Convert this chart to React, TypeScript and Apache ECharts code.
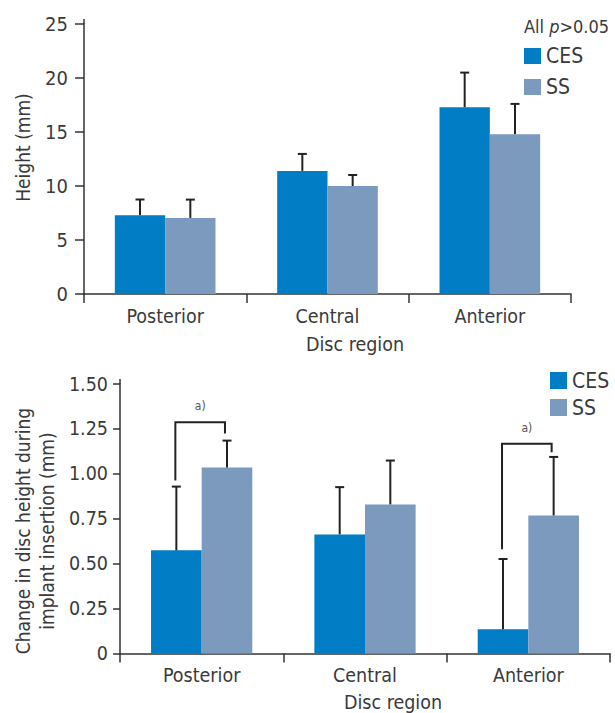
import React, { useEffect, useRef } from "react";
import * as echarts from "echarts";

const categories = ["Posterior", "Central", "Anterior"];
const seriesNames = ["CES", "SS"];

// Top chart: height (mm)
const heightCES = [7.3, 11.4, 17.3];
const heightCESsd = [1.45, 1.57, 3.2];
const heightSS = [7.04, 10.0, 14.8];
const heightSSsd = [1.7, 1.02, 2.8];

// Bottom chart: change in disc height (mm)
const changeCES = [0.574, 0.663, 0.135];
const changeCESsd = [0.355, 0.263, 0.391];
const changeSS = [1.035, 0.83, 0.768];
const changeSSsd = [0.15, 0.244, 0.326];

// Significance brackets (bottom chart): category, bracket top, left foot, right foot
const bracketCats = [0, 2];
const bracketTop = [1.287, 1.167];
const bracketLeftFoot = [0.963, 0.58];
const bracketRightFoot = [1.224, 1.12];
const bracketLabel = "a)";

const topTicks = { min: 0, max: 25, interval: 5 };
const bottomTicks = { min: 0, max: 1.5, interval: 0.25 };

const FONT = '"DejaVu Sans Condensed", "Liberation Sans Narrow", sans-serif';
const TEXT = "#3a3a3a";
const AXIS = "#333333";
const BLUE = "#007dc5";
const GREY = "#7b9abd";
const GAP = 0.38;

function errData(ces: number[], cesSd: number[], ss: number[], ssSd: number[]) {
  const out: number[][] = [];
  ces.forEach((v, i) => out.push([i, 0, v, v + cesSd[i]]));
  ss.forEach((v, i) => out.push([i, 1, v, v + ssSd[i]]));
  return out;
}

function errRender(params: any, api: any) {
  const cat = api.value(0);
  const grp = api.value(1);
  const mean = api.value(2);
  const top = api.value(3);
  const band = api.size([1, 0])[0];
  const bw = (band * (1 - GAP)) / 2;
  const off = (grp === 0 ? -0.5 : 0.5) * bw;
  const p0 = api.coord([cat, mean]);
  const p1 = api.coord([cat, top]);
  const x = p0[0] + off;
  return {
    type: "group",
    children: [
      { type: "line", shape: { x1: x, y1: p0[1], x2: x, y2: p1[1] }, style: { stroke: "#222", lineWidth: 2 } },
      { type: "line", shape: { x1: x - 4.5, y1: p1[1], x2: x + 4.5, y2: p1[1] }, style: { stroke: "#222", lineWidth: 2 } },
    ],
  };
}

function bracketRender(params: any, api: any) {
  const cat = api.value(0);
  const top = api.value(1);
  const lf = api.value(2);
  const rf = api.value(3);
  const band = api.size([1, 0])[0];
  const bw = (band * (1 - GAP)) / 2;
  const c = api.coord([cat, top]);
  const xl = c[0] - bw / 2 - 1;
  const xr = c[0] + bw / 2 - 2;
  const yt = c[1];
  const yl = api.coord([cat, lf])[1];
  const yr = api.coord([cat, rf])[1];
  return {
    type: "group",
    children: [
      {
        type: "polyline",
        shape: { points: [[xl, yl], [xl, yt], [xr, yt], [xr, yr]] },
        style: { stroke: "#222", lineWidth: 2, fill: "none" },
      },
      {
        type: "text",
        x: (xl + xr) / 2,
        y: yt - 16,
        style: { text: bracketLabel, fill: "#555", font: `12px ${FONT}`, align: "center", verticalAlign: "middle" },
      },
    ],
  };
}

export default function App() {
  const ref = useRef<HTMLDivElement>(null);
  useEffect(() => {
    const chart = echarts.init(ref.current!, null, { renderer: "svg" });
    const xAxisBase = (gridIndex: number, tickLen: number) => ({
      type: "category",
      gridIndex,
      data: categories,
      boundaryGap: true,
      axisLine: { lineStyle: { color: AXIS, width: 1.5 } },
      axisTick: { show: true, length: tickLen, lineStyle: { color: AXIS, width: 1.5 } },
      axisLabel: { interval: 0, color: TEXT, fontFamily: FONT, fontSize: 19.5, margin: 12 },
    });
    const option: any = {
      animation: false,
      textStyle: { fontFamily: FONT },
      grid: [
        { left: 84, right: 44, top: 24, height: 270 },
        { left: 120, right: 5, top: 384, height: 269.5 },
      ],
      xAxis: [xAxisBase(0, 9), xAxisBase(1, 9)],
      yAxis: [
        {
          type: "value",
          gridIndex: 0,
          ...topTicks,
          splitLine: { show: false },
          axisLine: { show: true, lineStyle: { color: AXIS, width: 1.5 } },
          axisTick: { show: true, length: 9, lineStyle: { color: AXIS, width: 1.5 } },
          axisLabel: { color: TEXT, fontFamily: FONT, fontSize: 20, margin: 16 },
        },
        {
          type: "value",
          gridIndex: 1,
          ...bottomTicks,
          splitLine: { show: false },
          axisLine: { show: true, lineStyle: { color: AXIS, width: 1.5 } },
          axisTick: { show: true, length: 7, lineStyle: { color: AXIS, width: 1.5 } },
          axisLabel: {
            color: TEXT,
            fontFamily: FONT,
            fontSize: 19.5,
            margin: 12,
            formatter: (v: number) => (v === 0 ? "0" : v.toFixed(2)),
          },
        },
      ],
      legend: [
        {
          data: seriesNames,
          orient: "vertical",
          left: 524,
          top: 45.5,
          padding: 0,
          itemWidth: 17,
          itemHeight: 16,
          itemGap: 10,
          itemTextGap: 5,
          icon: "rect",
          textStyle: { color: TEXT, fontFamily: FONT, fontSize: 21 },
          selectedMode: false,
        },
        {
          data: seriesNames,
          orient: "vertical",
          left: 550,
          top: 370,
          padding: 0,
          itemWidth: 17,
          itemHeight: 17,
          itemGap: 6,
          itemTextGap: 6,
          icon: "rect",
          textStyle: { color: TEXT, fontFamily: FONT, fontSize: 21 },
          selectedMode: false,
        },
      ],
      series: [
        { name: "CES", type: "bar", xAxisIndex: 0, yAxisIndex: 0, data: heightCES, itemStyle: { color: BLUE }, barGap: "0%", barCategoryGap: "38%" },
        { name: "SS", type: "bar", xAxisIndex: 0, yAxisIndex: 0, data: heightSS, itemStyle: { color: GREY }, barGap: "0%", barCategoryGap: "38%" },
        { name: "CES", type: "bar", xAxisIndex: 1, yAxisIndex: 1, data: changeCES, itemStyle: { color: BLUE }, barGap: "0%", barCategoryGap: "38%" },
        { name: "SS", type: "bar", xAxisIndex: 1, yAxisIndex: 1, data: changeSS, itemStyle: { color: GREY }, barGap: "0%", barCategoryGap: "38%" },
        {
          type: "custom",
          xAxisIndex: 0,
          yAxisIndex: 0,
          renderItem: errRender,
          encode: { x: 0, y: 3 },
          data: errData(heightCES, heightCESsd, heightSS, heightSSsd),
          z: 5,
        },
        {
          type: "custom",
          xAxisIndex: 1,
          yAxisIndex: 1,
          renderItem: errRender,
          encode: { x: 0, y: 3 },
          data: errData(changeCES, changeCESsd, changeSS, changeSSsd),
          z: 5,
        },
        {
          type: "custom",
          xAxisIndex: 1,
          yAxisIndex: 1,
          renderItem: bracketRender,
          encode: { x: 0, y: 1 },
          data: bracketCats.map((c, i) => [c, bracketTop[i], bracketLeftFoot[i], bracketRightFoot[i]]),
          z: 5,
        },
      ],
      graphic: [
        { type: "line", shape: { x1: 84, y1: 19, x2: 84, y2: 24 }, style: { stroke: AXIS, lineWidth: 1.5 } },
        { type: "line", shape: { x1: 120, y1: 379, x2: 120, y2: 384 }, style: { stroke: AXIS, lineWidth: 1.5 } },
        {
          type: "text",
          x: 524,
          y: 26,
          style: {
            text: "{n|All }{i|p}{n|>0.05}",
            verticalAlign: "middle",
            rich: {
              n: { fontFamily: FONT, fontSize: 18, fill: TEXT, color: TEXT },
              i: { fontFamily: FONT, fontSize: 18, fontStyle: "italic", fill: TEXT, color: TEXT },
            },
          },
        },
        {
          type: "text",
          x: 22.7,
          y: 147.5,
          rotation: Math.PI / 2,
          style: { text: "Height (mm)", fill: TEXT, font: `19px ${FONT}`, align: "center", verticalAlign: "middle" },
        },
        {
          type: "text",
          x: 35,
          y: 531,
          rotation: Math.PI / 2,
          style: {
            text: "Change in disc height during\nimplant insertion (mm)",
            fill: TEXT,
            font: `19px ${FONT}`,
            lineHeight: 24,
            align: "center",
            verticalAlign: "middle",
          },
        },
        {
          type: "text",
          x: 355,
          y: 344,
          style: { text: "Disc region", fill: TEXT, font: `19.5px ${FONT}`, align: "center", verticalAlign: "middle" },
        },
        {
          type: "text",
          x: 393,
          y: 702,
          style: { text: "Disc region", fill: TEXT, font: `19.5px ${FONT}`, align: "center", verticalAlign: "middle" },
        },
      ],
    };
    chart.setOption(option);
    return () => chart.dispose();
  }, []);
  return (
    <div
      ref={ref}
      style={{ position: "fixed", left: 0, top: 0, width: 615, height: 713, background: "#fff" }}
    />
  );
}
